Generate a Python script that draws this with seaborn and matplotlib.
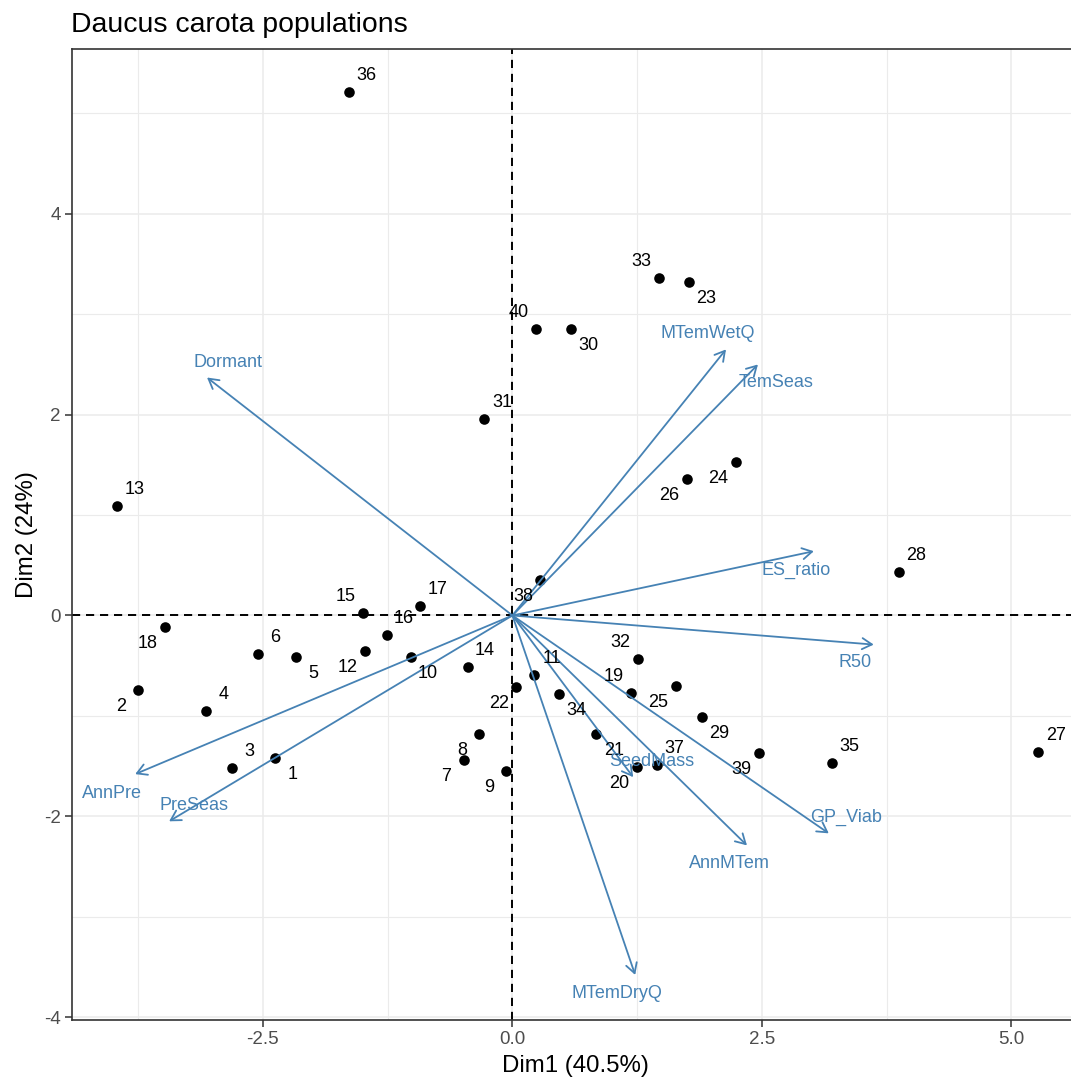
import numpy as np
import pandas as pd
import seaborn as sns
import matplotlib.pyplot as plt
from matplotlib.ticker import MultipleLocator, FormatStrFormatter

# population scores on the first two PCA dimensions
pop_id = [str(i) for i in range(1, 41)]
dim1 = [-2.38, -3.75, -2.81, -3.07, -2.17, -2.55, -0.49, -0.33, -0.06, -1.02,
        0.22, -1.48, -3.96, -0.45, -1.50, -1.26, -0.93, -3.48, 1.19, 1.25,
        0.84, 0.04, 1.77, 2.24, 1.64, 1.75, 5.27, 3.87, 1.90, 0.59,
        -0.28, 1.26, 1.47, 0.47, 3.20, -1.64, 1.45, 0.28, 2.47, 0.24]
dim2 = [-1.42, -0.74, -1.52, -0.95, -0.41, -0.38, -1.44, -1.18, -1.55, -0.41,
        -0.59, -0.35, 1.09, -0.51, 0.02, -0.19, 0.09, -0.11, -0.77, -1.51,
        -1.18, -0.71, 3.32, 1.53, -0.70, 1.36, -1.36, 0.43, -1.01, 2.85,
        1.96, -0.43, 3.36, -0.78, -1.47, 5.21, -1.49, 0.35, -1.37, 2.85]
# which side of the point each number sits (repelled labels)
pop_side = ["se", "sw", "ne", "ne", "se", "ne", "sw", "sw", "sw", "se",
            "ne", "sw", "ne", "ne", "nw", "ne", "ne", "sw", "nw", "sw",
            "se", "sw", "se", "sw", "sw", "sw", "ne", "ne", "se", "se",
            "ne", "nw", "nw", "se", "ne", "ne", "ne", "sw", "sw", "nw"]

# variable loadings (arrow tips)
var_name = ["Dormant", "MTemWetQ", "TemSeas", "ES_ratio", "R50", "GP_Viab",
            "AnnMTem", "SeedMass", "MTemDryQ", "AnnPre", "PreSeas"]
var_x = [-3.06, 2.14, 2.46, 3.02, 3.62, 3.17, 2.35, 1.21, 1.23, -3.78, -3.44]
var_y = [2.37, 2.65, 2.50, 0.64, -0.29, -2.17, -2.29, -1.61, -3.58, -1.58, -2.05]

pops = pd.DataFrame({"id": pop_id, "Dim1": dim1, "Dim2": dim2, "side": pop_side})
loads = pd.DataFrame({"var": var_name, "x": var_x, "y": var_y})

sns.set_theme(style="white")
plt.rcParams["font.family"] = ["Liberation Sans", "DejaVu Sans"]
plt.rcParams["axes.unicode_minus"] = False
plt.rcParams["text.color"] = "black"

W, H = 1071, 1078
fig = plt.figure(figsize=(W / 100, H / 100), dpi=100)
ax = fig.add_axes([71.7 / W, (H - 1020) / H, (1079 - 71.7) / W, (1020 - 49) / H])

steel = "#4682B4"
px = 0.72  # pixel -> point

# grid
ax.xaxis.set_major_locator(MultipleLocator(2.5))
ax.xaxis.set_minor_locator(MultipleLocator(1.25))
ax.yaxis.set_major_locator(MultipleLocator(2))
ax.yaxis.set_minor_locator(MultipleLocator(1))
ax.xaxis.set_major_formatter(FormatStrFormatter("%.1f"))
ax.yaxis.set_major_formatter(FormatStrFormatter("%d"))
ax.grid(which="major", color="#EBEBEB", lw=1.1)
ax.grid(which="minor", color="#EBEBEB", lw=0.8)
ax.set_axisbelow(True)

ax.axhline(0, color="black", lw=1.4, ls=(0, (4.2, 3.0)), zorder=2)
ax.axvline(0, color="black", lw=1.4, ls=(0, (4.2, 3.0)), zorder=2)

sns.scatterplot(data=pops, x="Dim1", y="Dim2", color="black", s=58,
                linewidth=0, ax=ax, zorder=3)

offs = {"ne": (17.5, 16.5), "nw": (-17.5, 16.5), "se": (17.5, -16.5), "sw": (-17.5, -16.5)}
for _, r in pops.iterrows():
    dx, dy = offs[r["side"]]
    ax.annotate(r["id"], (r["Dim1"], r["Dim2"]), xytext=(dx * px, dy * px),
                textcoords="offset points", ha="center", va="center",
                fontsize=13, color="black", zorder=5)

# arrows for variables
var_off = {"Dormant": (21, 15), "MTemWetQ": (-18, 16), "TemSeas": (18, -18),
           "ES_ratio": (-18, -19), "R50": (-19, -18), "GP_Viab": (17, 16),
           "AnnMTem": (-18, -18), "SeedMass": (19, 16), "MTemDryQ": (-18, -19),
           "AnnPre": (-23, -19), "PreSeas": (25, 16)}
for _, r in loads.iterrows():
    ax.annotate("", xy=(r["x"], r["y"]), xytext=(0, 0),
                arrowprops=dict(arrowstyle="->,head_length=0.7,head_width=0.4",
                                color=steel, lw=1.3, shrinkA=0, shrinkB=0,
                                mutation_scale=10),
                zorder=4)
    dx, dy = var_off[r["var"]]
    ax.annotate(r["var"], (r["x"], r["y"]), xytext=(dx * px, dy * px),
                textcoords="offset points", ha="center", va="center",
                fontsize=13, color=steel, zorder=5)

ax.set_xlim(-4.416, 5.677)
ax.set_ylim(-4.029, 5.642)

for s in ax.spines.values():
    s.set_color("#333333")
    s.set_linewidth(1.2)
ax.tick_params(which="major", length=5, width=1.1, color="#333333",
               labelsize=13.5, labelcolor="#4D4D4D", pad=3,
               bottom=True, left=True)
ax.tick_params(which="minor", length=0)

ax.set_xlabel("")
ax.set_ylabel("")
fig.text(575 / W, 1 - 1066 / H, "Dim1 (40.5%)", ha="center", va="center", fontsize=17.3)
fig.text(27 / W, 1 - 534.5 / H, "Dim2 (24%)", ha="center", va="center",
         rotation=90, fontsize=17.3)
fig.text(71 / W, 1 - 31.7 / H, "Daucus carota populations", ha="left",
         va="baseline", fontsize=20.4)

fig.savefig("out.png", dpi=100)
